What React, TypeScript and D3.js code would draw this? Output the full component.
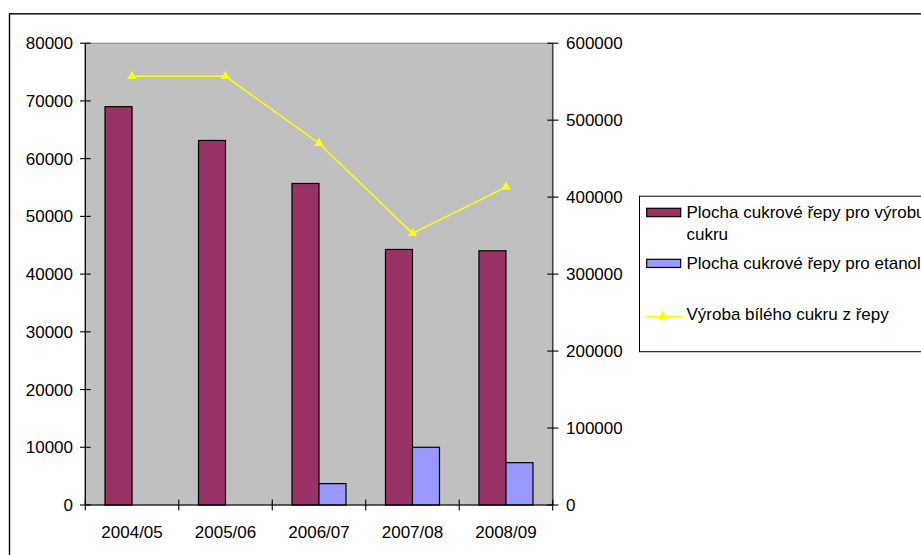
import React from "react";
import * as d3 from "d3";

const categories = ["2004/05", "2005/06", "2006/07", "2007/08", "2008/09"];
const areaSugar = [69000, 63150, 55700, 44270, 44040];
const areaEthanol = [0, 0, 3700, 10000, 7330];
const sugarProduction = [557000, 557000, 470000, 353000, 413000];
const leftTicks = [0, 10000, 20000, 30000, 40000, 50000, 60000, 70000, 80000];
const rightTicks = [0, 100000, 200000, 300000, 400000, 500000, 600000];
const legendLabels = [
  ["Plocha cukrové řepy pro výrobu", "cukru"],
  ["Plocha cukrové řepy pro etanol"],
  ["Výroba bílého cukru z řepy"],
];

const FONT = "'Liberation Sans', Arial, sans-serif";

export default function App() {
  const left = 85.3, right = 552.7, top = 43.2, bottom = 505;
  const x = d3.scaleBand().domain(categories).range([left, right]).padding(0);
  const yL = d3.scaleLinear().domain([0, 80000]).range([bottom, top]);
  const yR = d3.scaleLinear().domain([0, 600000]).range([bottom, top]);
  const bw = x.bandwidth() * 0.289;
  const cx = (c: string) => (x(c) as number) + x.bandwidth() / 2;
  const line = d3
    .line<number>()
    .x((_, i) => cx(categories[i]))
    .y((d) => yR(d));
  const tri = d3.symbol().type(d3.symbolTriangle).size(38)();

  return (
    <svg
      width={921}
      height={555}
      style={{ position: "absolute", left: 0, top: 0, background: "#fff" }}
      fontFamily={FONT}
      fontSize={17}
    >
      <rect x={9.5} y={13.8} width={1200} height={1200} fill="#fff" stroke="#000" strokeWidth={1.4} />
      <rect x={left} y={top} width={right - left} height={bottom - top} fill="#C0C0C0" stroke="#808080" strokeWidth={1} />

      {categories.map((c, i) => (
        <g key={c}>
          <rect x={cx(c) - bw} y={yL(areaSugar[i])} width={bw} height={bottom - yL(areaSugar[i])} fill="#993366" stroke="#000" strokeWidth={1.2} />
          {areaEthanol[i] > 0 && (
            <rect x={cx(c)} y={yL(areaEthanol[i])} width={bw} height={bottom - yL(areaEthanol[i])} fill="#9999FF" stroke="#000" strokeWidth={1.2} />
          )}
        </g>
      ))}

      <path d={line(sugarProduction) || ""} fill="none" stroke="#FFFF00" strokeWidth={1.5} />
      {sugarProduction.map((v, i) => (
        <path key={i} d={tri || ""} transform={`translate(${cx(categories[i])},${yR(v)})`} fill="#FFFF00" />
      ))}

      {/* left axis */}
      <line x1={left} x2={left} y1={top} y2={bottom} stroke="#000" strokeWidth={1.2} />
      {leftTicks.map((t) => (
        <g key={t}>
          <line x1={80} x2={90.7} y1={yL(t)} y2={yL(t)} stroke="#000" strokeWidth={1.1} />
          <text x={73} y={yL(t)} dy="0.35em" textAnchor="end" fill="#000">{t}</text>
        </g>
      ))}

      {/* right axis */}
      <line x1={right} x2={right} y1={top} y2={bottom} stroke="#444" strokeWidth={1.5} />
      {rightTicks.map((t) => (
        <g key={t}>
          <line x1={547.3} x2={558.5} y1={yR(t)} y2={yR(t)} stroke="#000" strokeWidth={1.1} />
          <text x={566} y={yR(t)} dy="0.35em" textAnchor="start" fill="#000">{t}</text>
        </g>
      ))}

      {/* x axis */}
      <line x1={left} x2={right} y1={bottom} y2={bottom} stroke="#000" strokeWidth={1.2} />
      {categories.map((c, i) => (
        <g key={c}>
          <line x1={(x(c) as number)} x2={(x(c) as number)} y1={499.5} y2={510.5} stroke="#000" strokeWidth={1.1} />
          <text x={cx(c)} y={537.5} textAnchor="middle" fill="#000">{c}</text>
        </g>
      ))}
      <line x1={right} x2={right} y1={499.5} y2={510.5} stroke="#000" strokeWidth={1.1} />

      {/* legend */}
      <rect x={639.5} y={196.2} width={400} height={155.5} fill="#fff" stroke="#000" strokeWidth={1} />
      <rect x={646.7} y={208.3} width={34} height={8.4} fill="#993366" stroke="#000" strokeWidth={1.2} />
      <text x={686.5} y={217.5} fill="#000">{legendLabels[0][0]}</text>
      <text x={686.5} y={240.2} fill="#000">{legendLabels[0][1]}</text>
      <rect x={646.7} y={259.3} width={34} height={8.2} fill="#9999FF" stroke="#000" strokeWidth={1.2} />
      <text x={686.5} y={268.5} fill="#000">{legendLabels[1][0]}</text>
      <line x1={646} x2={682.7} y1={316.7} y2={316.7} stroke="#FFFF00" strokeWidth={1.5} />
      <path d={tri || ""} transform="translate(662.7,316.2)" fill="#FFFF00" />
      <text x={686.5} y={320.2} fill="#000">{legendLabels[2][0]}</text>
    </svg>
  );
}
